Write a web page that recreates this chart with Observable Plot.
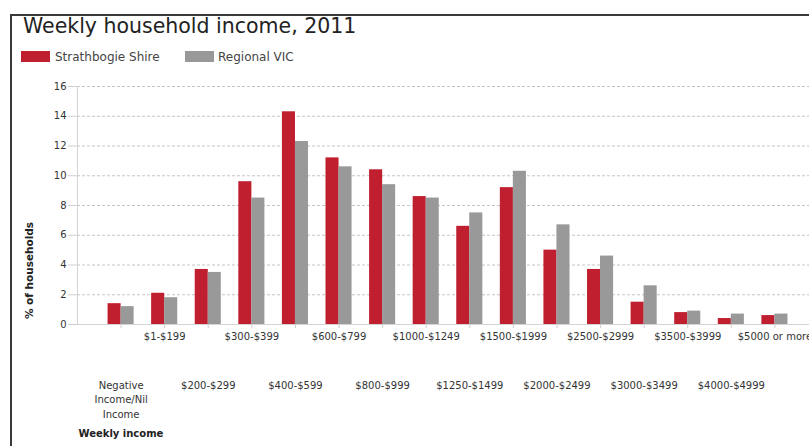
<!DOCTYPE html>
<html><head><meta charset="utf-8">
<script src="https://cdn.jsdelivr.net/npm/d3@7"></script>
<script src="https://cdn.jsdelivr.net/npm/@observablehq/plot@0.6"></script>
<style>
html,body{margin:0;padding:0;width:809px;height:446px;overflow:hidden;background:#fff;font-family:"DejaVu Sans",sans-serif;}
#frame{position:absolute;left:10px;top:14px;width:820px;height:450px;border-left:2px solid #3a3a3a;border-top:2px solid #3a3a3a;}
#title{position:absolute;left:23px;top:16px;font-size:20.5px;line-height:20.5px;color:#222;white-space:nowrap;}
.legend{position:absolute;top:50.5px;height:12px;display:flex;align-items:center;font-size:12px;line-height:12px;color:#444;white-space:nowrap;}
.sw{width:29px;height:11px;margin-right:5px;}
#chart{position:absolute;left:0;top:70px;width:830px;}
#chart svg{max-width:none !important;}
</style></head><body>
<div id="frame"></div>
<div id="title">Weekly household income, 2011</div>
<div id="leg"></div>
<div id="chart"></div>
<script>
const categories = ["Negative Income/Nil Income", "$1-$199", "$200-$299", "$300-$399", "$400-$599", "$600-$799", "$800-$999", "$1000-$1249", "$1250-$1499", "$1500-$1999", "$2000-$2499", "$2500-$2999", "$3000-$3499", "$3500-$3999", "$4000-$4999", "$5000 or more"];
const tickLabels = ["Negative\nIncome/Nil\nIncome", "$1-$199", "$200-$299", "$300-$399", "$400-$599", "$600-$799", "$800-$999", "$1000-$1249", "$1250-$1499", "$1500-$1999", "$2000-$2499", "$2500-$2999", "$3000-$3499", "$3500-$3999", "$4000-$4999", "$5000 or more"];
const seriesNames = ["Strathbogie Shire", "Regional VIC"];
const seriesColors = ["#c01f2f", "#999999"];
const strathbogie = [1.4, 2.1, 3.7, 9.6, 14.3, 11.2, 10.4, 8.6, 6.6, 9.2, 5.0, 3.7, 1.5, 0.8, 0.4, 0.6];
const regionalVic = [1.2, 1.8, 3.5, 8.5, 12.3, 10.6, 9.4, 8.5, 7.5, 10.3, 6.7, 4.6, 2.6, 0.9, 0.7, 0.7];
const yTicks = [0, 2, 4, 6, 8, 10, 12, 14, 16];
const yTitle = "% of households";
const xTitle = "Weekly income";

// legend
const leg = document.getElementById("leg");
const legX = [[21, 55], [185, 218]];
seriesNames.forEach((s, i) => {
  const d = document.createElement("div");
  d.className = "legend";
  d.style.left = legX[i][0] + "px";
  d.innerHTML = `<span class="sw" style="background:${seriesColors[i]};margin-right:${legX[i][1]-legX[i][0]-29}px"></span><span>${s}</span>`;
  leg.appendChild(d);
});

const labelOf = new Map(categories.map((c, i) => [c, tickLabels[i]]));
const rowOf = new Map(categories.map((c, i) => [c, i % 2 === 1 ? 1 : 2]));
const dataA = categories.map((c, i) => ({cat: c, series: seriesNames[0], value: strathbogie[i]}));
const dataB = categories.map((c, i) => ({cat: c, series: seriesNames[1], value: regionalVic[i]}));

const plot = Plot.plot({
  width: 830, height: 376,
  marginLeft: 77, marginRight: 12, marginTop: 16, marginBottom: 122,
  style: {fontFamily: "DejaVu Sans", fontSize: "10px", color: "#333", background: "transparent", overflow: "visible", maxWidth: "none"},
  x: {domain: categories, paddingInner: 0.7, paddingOuter: 0.85, round: false, label: null},
  y: {domain: [0, 16], ticks: yTicks, label: null},
  marks: [
    Plot.gridY(yTicks.filter(d => d > 0), {stroke: "#c4c4c4", strokeOpacity: 1, strokeDasharray: "3,2"}),
    Plot.axisY(yTicks, {tickSize: 9, tickPadding: 2, stroke: "#cfcfcf", label: null}),
    Plot.frame({anchor: "left", stroke: "#d4d4d4"}),
    Plot.ruleY([0], {stroke: "#d4d4d4"}),
    Plot.barY(dataA, {x: "cat", y: "value", fill: seriesColors[0], dx: -6.5}),
    Plot.barY(dataB, {x: "cat", y: "value", fill: seriesColors[1], dx: 6.5}),
    Plot.axisX(categories, {tickSize: 4, tickPadding: 4, stroke: "#cfcfcf", label: null,
      tickFormat: d => rowOf.get(d) === 1 ? labelOf.get(d) : ""}),
    Plot.text(categories.filter(c => rowOf.get(c) === 2), {x: d => d, text: d => labelOf.get(d),
      frameAnchor: "bottom", lineAnchor: "top", dy: 54, lineHeight: 1.45, fill: "#333"}),
    Plot.text([xTitle], {text: d => d, frameAnchor: "bottom-left", textAnchor: "start", dx: 1, dy: 112, fontWeight: "bold", fill: "#222"}),
    Plot.text([yTitle], {text: d => d, frameAnchor: "left", textAnchor: "middle", rotate: -90, dx: -48, dy: 65, fontWeight: "bold", fontSize: 10.5, fill: "#222"})
  ]
});
document.getElementById("chart").appendChild(plot);
</script>
</body></html>
